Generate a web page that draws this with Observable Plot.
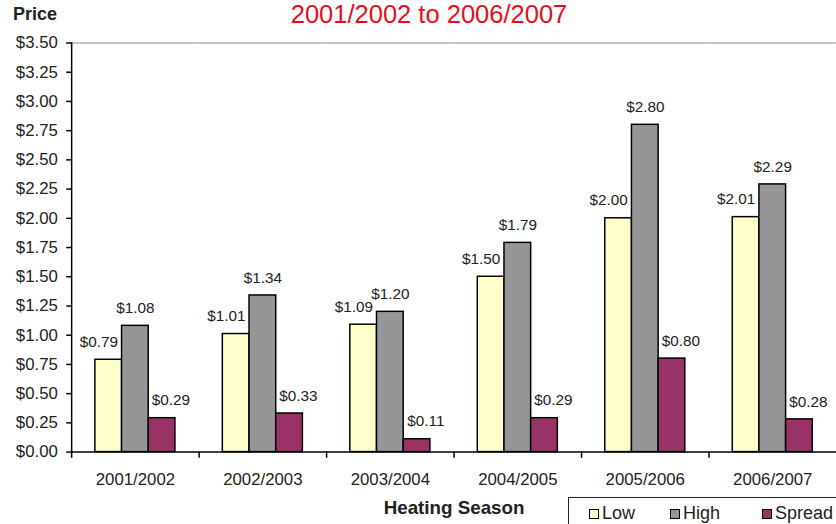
<!DOCTYPE html>
<html>
<head>
<meta charset="utf-8">
<script src="https://cdn.jsdelivr.net/npm/d3@7"></script>
<script src="https://cdn.jsdelivr.net/npm/@observablehq/plot@0.6"></script>
<style>
  html, body { margin: 0; padding: 0; background: #fff; }
  #wrap { position: relative; width: 836px; height: 524px; overflow: hidden; font-family: "Liberation Sans", Arial, sans-serif; }
  #chart { position: absolute; left: 0; top: 0; }
  #title { position: absolute; left: 0; width: 858px; top: 0px; text-align: center; color: #e3101c; font-size: 25.5px; line-height: 29px; }
  #ylabel { position: absolute; left: 13px; top: 4px; font-weight: bold; font-size: 18px; color: #222; }
  #legend { position: absolute; left: 568px; top: 497px; width: 300px; height: 40px; border: 1px solid #222; box-sizing: border-box; }
  .item { position: absolute; top: 5px; font-size: 18px; color: #222; line-height: 20px; }
  .sw { display: inline-block; width: 8px; height: 8px; border: 1px solid #000; margin-right: 3px; vertical-align: 0px; }
</style>
</head>
<body>
<div id="wrap">
  <div id="chart"></div>
  <div id="title">2001/2002 to 2006/2007</div>
  <div id="ylabel">Price</div>
  <div id="legend"></div>
</div>
<script>
const seasons = ["2001/2002", "2002/2003", "2003/2004", "2004/2005", "2005/2006", "2006/2007"];
const seriesNames = ["Low", "High", "Spread"];
const lowValues = [0.79, 1.01, 1.09, 1.50, 2.00, 2.01];
const highValues = [1.08, 1.34, 1.20, 1.79, 2.80, 2.29];
const spreadValues = [0.29, 0.33, 0.11, 0.29, 0.80, 0.28];
const yTicks = [0, 0.25, 0.5, 0.75, 1, 1.25, 1.5, 1.75, 2, 2.25, 2.5, 2.75, 3, 3.25, 3.5];
const seriesColors = ["#FFFFCC", "#969696", "#993366"];
const labelShift = [-10, 0, 9];

const valuesBySeries = [lowValues, highValues, spreadValues];
const data = [];
seasons.forEach((s, i) => {
  seriesNames.forEach((name, j) => {
    data.push({season: s, series: name, value: valuesBySeries[j][i]});
  });
});

const fmt = d => "$" + d.toFixed(2);
const W = 846, H = 524, mT = 43, mB = 67, mL = 71, mR = 0;
const plotH = H - mT - mB;

const plot = Plot.plot({
  width: W,
  height: H,
  marginTop: mT,
  marginBottom: mB,
  marginLeft: mL,
  marginRight: mR,
  facet: {marginTop: 0, marginBottom: 0, marginLeft: 0, marginRight: 0},
  style: {fontFamily: "'Liberation Sans', Arial, sans-serif", background: "#fff", color: "#222"},
  fx: {domain: seasons, padding: 0},
  x: {domain: seriesNames, paddingInner: 0, paddingOuter: 0.81, axis: null},
  y: {domain: [0, 3.5]},
  color: {domain: seriesNames, range: seriesColors},
  marks: [
    Plot.ruleY([3.5], {stroke: "#888", strokeWidth: 1}),
    Plot.barY(data, {fx: "season", x: "series", y: "value", fill: "series", stroke: "#000", strokeWidth: 1.5}),
    ...seriesNames.map((name, j) =>
      Plot.text(data.filter(d => d.series === name), {
        fx: "season", x: "series", y: "value", text: d => fmt(d.value),
        lineAnchor: "bottom", dy: -13, dx: labelShift[j], fontSize: 15.5, fill: "#222"
      })
    ),
    Plot.ruleY([0], {stroke: "#000", strokeWidth: 1.5}),
    Plot.frame({anchor: "left", insetTop: plotH, insetBottom: -5, stroke: "#000", strokeWidth: 1.5}),
    Plot.frame({anchor: "left", facetAnchor: "left", stroke: "#000", strokeWidth: 1.5}),
    Plot.axisY({ticks: yTicks, tickFormat: fmt, tickSize: 5, tickPadding: 9, fontSize: 17, stroke: "#000", strokeWidth: 1.5, label: null}),
    Plot.axisFx({anchor: "bottom", tickSize: 0, tickPadding: 21, fontSize: 17, label: null}),
    Plot.axisFx({anchor: "bottom", tickSize: 0, text: null, fontSize: 19, fontWeight: "bold", label: "Heating Season", labelAnchor: "center", labelOffset: 63, labelArrow: "none"})
  ]
});
document.getElementById("chart").appendChild(plot);

// legend from the same series arrays
const legend = document.getElementById("legend");
const itemLeft = [20, 101, 193];
seriesNames.forEach((name, j) => {
  const it = document.createElement("div");
  it.className = "item";
  it.style.left = itemLeft[j] + "px";
  it.innerHTML = `<span class="sw" style="background:${seriesColors[j]}"></span>${name}`;
  legend.appendChild(it);
});
</script>
</body>
</html>
